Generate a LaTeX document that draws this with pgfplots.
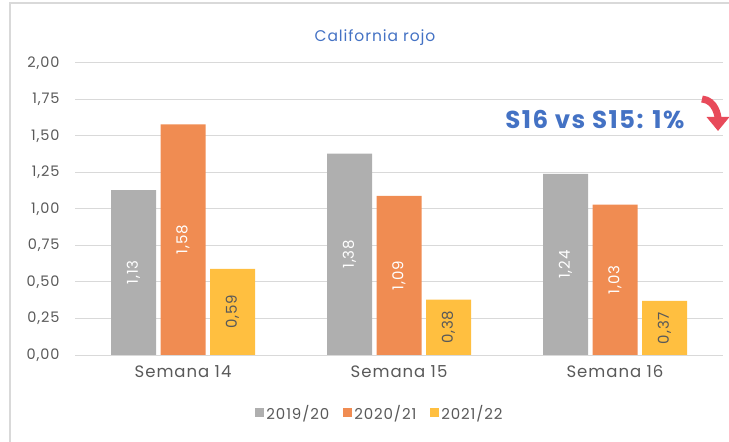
\documentclass[border=0pt]{standalone}
\usepackage{pgfplots}
\pgfplotsset{compat=1.18}
\usepackage{fontspec}
\setmainfont{Poppins}[LetterSpace=6]
\usetikzlibrary{arrows.meta}
\definecolor{cgray}{HTML}{AFAFAF}
\definecolor{corange}{HTML}{F08C52}
\definecolor{cyellow}{HTML}{FFBF40}
\definecolor{cblue}{HTML}{4472C4}
\definecolor{ctext}{HTML}{595959}
\definecolor{cgrid}{HTML}{D9D9D9}
\definecolor{cred}{HTML}{E84A5A}
\begin{document}
\begin{tikzpicture}
\draw[cgrid, line width=1.5bp] (10bp,0) -- (10bp,439bp) -- (729bp,439bp);
\begin{axis}[
  at={(75bp,87bp)}, anchor=south west,
  scale only axis, width=648bp, height=292bp,
  xmin=-0.5, xmax=2.5, ymin=0, ymax=2,
  xtick={0,1,2}, xticklabels={Semana 14,Semana 15,Semana 16},
  ytick={0,0.25,0.5,0.75,1,1.25,1.5,1.75,2},
  /pgf/number format/.cd, use comma, fixed, fixed zerofill, precision=2, assume math mode=true,
  /pgfplots/.cd,
  axis line style={draw=none},
  major tick length=0pt,
  ymajorgrids, grid style={cgrid, line width=1bp},
  xmajorgrids=false,
  tick label style={text=ctext},
  yticklabel style={font=\fontsize{14.5bp}{16bp}\selectfont, xshift=-12bp},
  xticklabel style={font=\fontsize{16.5bp}{19bp}\selectfont, yshift=-7bp},
  ybar, bar width=45bp,
  nodes near coords={\pgfmathprintnumber[fixed,fixed zerofill,precision=2,use comma,assume math mode=true]{\pgfplotspointmeta}},
  visualization depends on={y \as \rawy},
  every node near coord/.append style={shift={(axis direction cs:0,-\rawy/2)}, rotate=90, anchor=center, font=\fontsize{15bp}{17bp}\selectfont},
  legend columns=3,
  legend style={draw=none, fill=none, at={(axis description cs:0.4707,-0.1986)}, anchor=center, font=\fontsize{15bp}{17bp}\selectfont, text=ctext, /tikz/every even column/.append style={column sep=12bp}},
  legend image code/.code={\fill[#1] (0bp,-4.5bp) rectangle (9bp,4.5bp);},
  title={California rojo},
  title style={font=\fontsize{15.5bp}{18bp}\selectfont, text=cblue, at={(axis description cs:0.4630,1.0)}, yshift=8bp},
]
\addplot[fill=cgray, draw=none, bar shift=-49.5bp, nodes near coords style={text=white}] coordinates {(0,1.13) (1,1.38) (2,1.24)};
\addplot[fill=corange, draw=none, bar shift=0bp, nodes near coords style={text=white}] coordinates {(0,1.58) (1,1.09) (2,1.03)};
\addplot[fill=cyellow, draw=none, bar shift=49.5bp, nodes near coords style={text=ctext}] coordinates {(0,0.59) (1,0.38) (2,0.37)};
\legend{2019/20,2020/21,2021/22}
\node[font=\bfseries\fontsize{24.5bp}{28bp}\selectfont, text=cblue] at (axis cs:1.907,1.61) {S16 vs S15: 1\%};
\end{axis}
\draw[cred, line width=7bp, -{Triangle[length=14bp,width=22bp]}] (702bp,343bp) to[out=-5,in=90] (718bp,311bp);
\pgfresetboundingbox
\useasboundingbox (0,0) rectangle (729bp,442bp);
\end{tikzpicture}
\end{document}
